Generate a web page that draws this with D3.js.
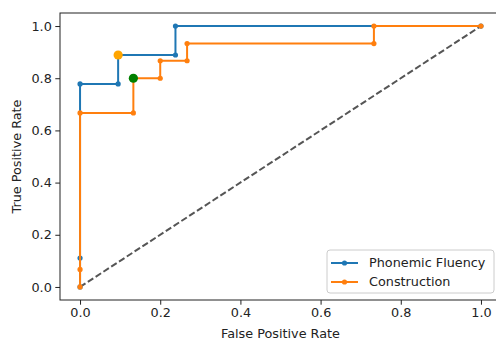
<!DOCTYPE html>
<html>
<head>
<meta charset="utf-8">
<script src="https://cdn.jsdelivr.net/npm/d3@7"></script>
<style>
  body { margin: 0; background: #fff; }
  text { font-family: "DejaVu Sans", sans-serif; }
</style>
</head>
<body>
<div id="chart"></div>
<script>
// ROC curve values
const fprPhonemic = [0, 0, 0, 0.095, 0.095, 0.238, 0.238, 1.0];
const tprPhonemic = [0, 0.111, 0.778, 0.778, 0.889, 0.889, 1.0, 1.0];

const fprConstruction = [0, 0, 0, 0.133, 0.133, 0.2, 0.2, 0.267, 0.267, 0.733, 0.733, 1.0];
const tprConstruction = [0, 0.067, 0.667, 0.667, 0.8, 0.8, 0.867, 0.867, 0.933, 0.933, 1.0, 1.0];

// best thresholds marked on each curve
const bestPoints = [
  { fpr: 0.095, tpr: 0.889, color: "orange" },
  { fpr: 0.133, tpr: 0.8, color: "green" }
];

const seriesNames = ["Phonemic Fluency", "Construction"];
const seriesColors = ["#1f77b4", "#ff7f0e"];
const tickValues = [0, 0.2, 0.4, 0.6, 0.8, 1.0];

const width = 496, height = 341;
const margin = { top: 13, right: -5, bottom: 41, left: 60 };
const fontSize = "12.8px";

const svg = d3.select("#chart").append("svg")
  .attr("width", width)
  .attr("height", height);

const x = d3.scaleLinear().domain([-0.05, 1.05]).range([margin.left, width - margin.right]);
const y = d3.scaleLinear().domain([-0.05, 1.05]).range([height - margin.bottom, margin.top]);

// chance diagonal
svg.append("line")
  .attr("x1", x(0)).attr("y1", y(0))
  .attr("x2", x(1)).attr("y2", y(1))
  .attr("stroke", "#555")
  .attr("stroke-width", 2)
  .attr("stroke-dasharray", "6.5,2.8");

const line = d3.line().x(d => x(d[0])).y(d => y(d[1]));

const series = [
  d3.zip(fprPhonemic, tprPhonemic),
  d3.zip(fprConstruction, tprConstruction)
];

series.forEach((pts, i) => {
  svg.append("path")
    .datum(pts)
    .attr("fill", "none")
    .attr("stroke", seriesColors[i])
    .attr("stroke-width", 2)
    .attr("d", line);
  svg.selectAll(".dot" + i)
    .data(pts)
    .enter().append("circle")
    .attr("class", "dot" + i)
    .attr("cx", d => x(d[0]))
    .attr("cy", d => y(d[1]))
    .attr("r", 2.6)
    .attr("fill", seriesColors[i]);
});

svg.selectAll(".best")
  .data(bestPoints)
  .enter().append("circle")
  .attr("class", "best")
  .attr("cx", d => x(d.fpr))
  .attr("cy", d => y(d.tpr))
  .attr("r", 4.6)
  .attr("fill", d => d.color);

// axes
const xAxis = svg.append("g")
  .attr("transform", "translate(0," + (height - margin.bottom) + ")")
  .call(d3.axisBottom(x).tickValues(tickValues).tickFormat(d3.format(".1f")).tickSize(4.7).tickPadding(3.5));
const yAxis = svg.append("g")
  .attr("transform", "translate(" + margin.left + ",0)")
  .call(d3.axisLeft(y).tickValues(tickValues).tickFormat(d3.format(".1f")).tickSize(4.7).tickPadding(3.5));

[xAxis, yAxis].forEach(g => {
  g.select(".domain").remove();
  g.selectAll(".tick line").attr("stroke", "#222").attr("stroke-width", 1);
  g.selectAll(".tick text")
    .attr("fill", "#222")
    .style("font-size", fontSize)
    .style("font-family", "DejaVu Sans, sans-serif");
});

// frame
svg.append("rect")
  .attr("x", margin.left)
  .attr("y", margin.top)
  .attr("width", x.range()[1] - margin.left)
  .attr("height", y.range()[0] - margin.top)
  .attr("fill", "none")
  .attr("stroke", "#222")
  .attr("stroke-width", 1);

// axis labels
svg.append("text")
  .attr("x", (x(0) + x(1)) / 2)
  .attr("y", 338)
  .attr("text-anchor", "middle")
  .attr("fill", "#222")
  .style("font-size", fontSize)
  .text("False Positive Rate");

svg.append("text")
  .attr("transform", "translate(21," + ((y(0) + y(1)) / 2) + ") rotate(-90)")
  .attr("text-anchor", "middle")
  .attr("fill", "#222")
  .style("font-size", fontSize)
  .text("True Positive Rate");

// legend
const legend = svg.append("g").attr("transform", "translate(327,250)");
legend.append("rect")
  .attr("width", 167)
  .attr("height", 43)
  .attr("rx", 3)
  .attr("fill", "#fff")
  .attr("fill-opacity", 0.8)
  .attr("stroke", "#ccc")
  .attr("stroke-width", 1);

seriesNames.forEach((name, i) => {
  const row = legend.append("g").attr("transform", "translate(0," + (13 + i * 19) + ")");
  row.append("line")
    .attr("x1", 4).attr("x2", 31)
    .attr("stroke", seriesColors[i])
    .attr("stroke-width", 2);
  row.append("circle")
    .attr("cx", 17.5)
    .attr("r", 2.6)
    .attr("fill", seriesColors[i]);
  row.append("text")
    .attr("x", 42)
    .attr("dy", "0.35em")
    .attr("fill", "#222")
    .style("font-size", fontSize)
    .text(name);
});
</script>
</body>
</html>
